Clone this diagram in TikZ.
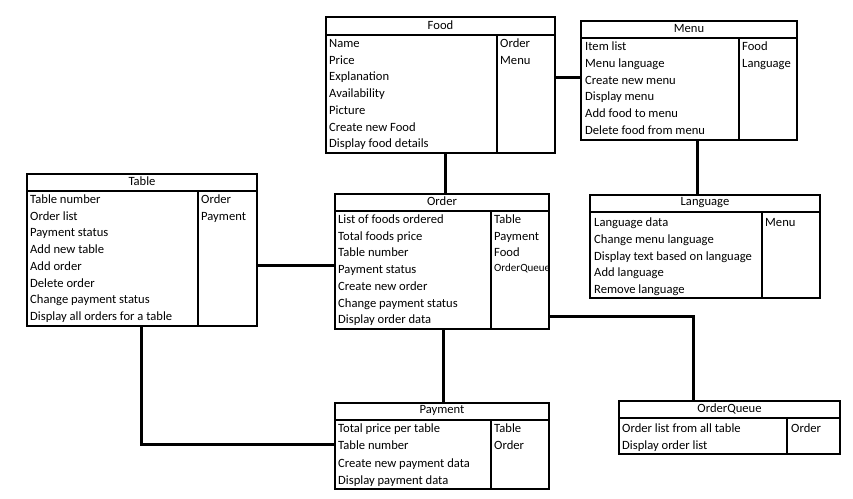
\documentclass[tikz,border=0pt]{standalone}
\usepackage{fontspec}
\setmainfont{Carlito}
\usetikzlibrary{calc}
\tikzset{
  box/.style={draw=black, line width=2pt, fill=white, inner sep=0pt, outer sep=0pt},
  boxline/.style={draw=black, line width=2pt},
  conn/.style={draw=black, line width=3pt},
  rowtxt/.style={anchor=base west, inner sep=0pt, font=\fontsize{12.6}{14}\selectfont, text=black},
  smalltxt/.style={anchor=base west, inner sep=0pt, font=\fontsize{11}{12}\selectfont, text=black},
  titletxt/.style={inner sep=0pt, font=\fontsize{12.6}{14}\selectfont, text=black},
}
% #1 name, #2 x, #3 y, #4 width, #5 height, #6 header height, #7 divider offset, #8 title
\newcommand\umlbox[8]{%
  \node[box, minimum width=#4pt, minimum height=#5pt, anchor=north west] (#1) at (#2,#3) {};
  \draw[boxline] ([yshift=-#6pt]#1.north west) -- ([yshift=-#6pt]#1.north east);
  \draw[boxline] ([xshift=#7pt,yshift=-#6pt]#1.north west) -- ([xshift=#7pt]#1.south west);
  \node[titletxt] (#1-title) at ([yshift=-#6pt/2+1pt]#1.north) {#8};
}
% #1 prefix, #2 x, #3 first baseline y, #4 step, #5 list
\newcommand\umlrows[5]{%
  \foreach \t [count=\i] in {#5} \node[rowtxt] (#1-\i) at (#2, {#3+(\i-1)*#4}) {\t};
}
\begin{document}
\begin{tikzpicture}[x=1pt,y=-1pt]
\useasboundingbox[fill=white] (0,0) rectangle (853,498);

% Food
\umlbox{food}{326}{17}{229}{136}{18}{171}{Food}
\umlrows{foodL}{329}{47.5}{16.7}{Name,Price,Explanation,Availability,Picture,Create new Food,Display food details}
\umlrows{foodR}{500}{47.5}{16.7}{Order,Menu}

% Menu
\umlbox{menu}{581}{21}{216}{119}{17}{158}{Menu}
\umlrows{menuL}{585}{50.5}{16.8}{Item list,Menu language,Create new menu,Display menu,Add food to menu,Delete food from menu}
\umlrows{menuR}{742}{50.5}{16.8}{Food,Language}

% Table
\umlbox{table}{27}{174}{230}{152}{17}{171}{Table}
\umlrows{tableL}{30}{203.5}{16.7}{Table number,Order list,Payment status,Add new table,Add order,Delete order,Change payment status,Display all orders for a table}
\umlrows{tableR}{201}{203.5}{16.7}{Order,Payment}

% Order
\umlbox{order}{335}{194}{214}{135}{17}{156}{Order}
\umlrows{orderL}{338}{223.5}{16.7}{List of foods ordered,Total foods price,Table number,Payment status,Create new order,Change payment status,Display order data}
\umlrows{orderR}{494}{223.5}{16.7}{Table,Payment,Food}
\begin{scope}
  \clip (491,211) rectangle (548,328);
  \node[smalltxt] (orderR-4) at (494,271.5) {OrderQueue};
\end{scope}

% Language
\umlbox{language}{590}{195}{230}{103}{17}{172}{Language}
\umlrows{languageL}{594}{226.5}{16.75}{Language data,Change menu language,Display text based on language,Add language,Remove language}
\umlrows{languageR}{765}{226.5}{16.75}{Menu}

% Payment
\umlbox{payment}{335}{403}{214}{86}{17}{156}{Payment}
\node[rowtxt] (paymentL-1) at (338,432.5) {Total price per table};
\node[rowtxt] (paymentL-2) at (338,449.5) {Table number};
\node[rowtxt] (paymentL-3) at (338,467.5) {Create new payment data};
\node[rowtxt] (paymentL-4) at (338,484.5) {Display payment data};
\umlrows{paymentR}{494}{432.5}{17}{Table,Order}

% OrderQueue
\umlbox{orderqueue}{619}{401}{221}{53}{17}{168}{OrderQueue}
\umlrows{orderqueueL}{622}{432.5}{16.5}{Order list from all table,Display order list}
\umlrows{orderqueueR}{791}{432.5}{16.5}{Order}

% Connectors
\coordinate (fo) at ($(food.south)+(4.5,0)$);
\draw[conn] (fo) -- (fo |- order.north);
\coordinate (fm) at ($(food.east)+(0,-8)$);
\draw[conn] (fm) -- (fm -| menu.west);
\coordinate (ml) at ($(menu.south)+(8,0)$);
\draw[conn] (ml) -- (ml |- language.north);
\coordinate (to) at ($(table.east)+(0,15)$);
\draw[conn] (to) -- (to -| order.west);
\coordinate (op) at ($(order.south)+(1,0)$);
\draw[conn] (op) -- (op |- payment.north);
\coordinate (tp) at ($(table.south)+(-1,0)$);
\coordinate (pw) at ($(payment.west)+(0,-2)$);
\draw[conn] (tp) |- (pw);
\coordinate (oq) at ($(order.east)+(0,54.5)$);
\coordinate (oqn) at ($(orderqueue.north)+(-36.5,0)$);
\draw[conn] (oq) -| (oqn);
\end{tikzpicture}
\end{document}
